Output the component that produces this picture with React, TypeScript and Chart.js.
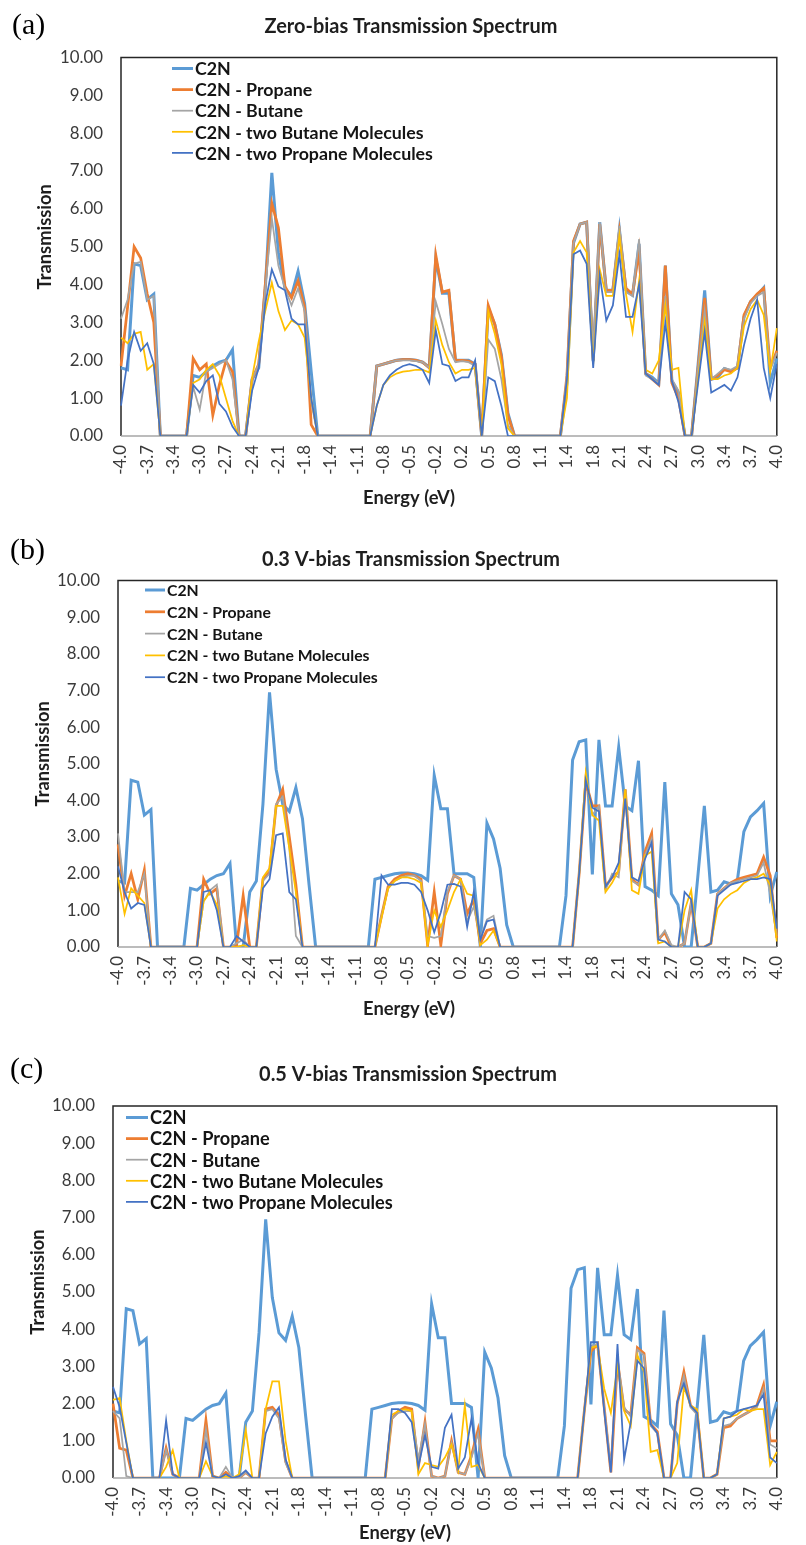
import React, { useEffect, useRef } from 'react';
import { Chart, registerables } from 'chart.js';

Chart.register(...registerables);

const FONT = 'Lato, "Open Sans", "DejaVu Sans", sans-serif';
const SERIF = '"Liberation Serif", "DejaVu Serif", serif';

// Energy grid (eV), 101 categories
const ENERGY = [
  -4.0, -3.92, -3.84, -3.76, -3.68, -3.6, -3.52, -3.44, -3.36, -3.28,
  -3.2, -3.12, -3.04, -2.96, -2.88, -2.8, -2.72, -2.64, -2.56, -2.48,
  -2.4, -2.32, -2.24, -2.16, -2.08, -2.0, -1.92, -1.84, -1.76, -1.68,
  -1.6, -1.52, -1.44, -1.36, -1.28, -1.2, -1.12, -1.04, -0.96, -0.88,
  -0.8, -0.72, -0.64, -0.56, -0.48, -0.4, -0.32, -0.24, -0.16, -0.08,
  0.0, 0.08, 0.16, 0.24, 0.32, 0.4, 0.48, 0.56, 0.64, 0.72,
  0.8, 0.88, 0.96, 1.04, 1.12, 1.2, 1.28, 1.36, 1.44, 1.52,
  1.6, 1.68, 1.76, 1.84, 1.92, 2.0, 2.08, 2.16, 2.24, 2.32,
  2.4, 2.48, 2.56, 2.64, 2.72, 2.8, 2.88, 2.96, 3.04, 3.12,
  3.2, 3.28, 3.36, 3.44, 3.52, 3.6, 3.68, 3.76, 3.84, 3.92,
  4.0,
];

// Shown category labels (every 4th category)
const TICK_LABELS = [
  '-4.0', '-3.7', '-3.4', '-3.0', '-2.7', '-2.4', '-2.1', '-1.8', '-1.4', '-1.1',
  '-0.8', '-0.5', '-0.2', '0.2', '0.5', '0.8', '1.1', '1.4', '1.8', '2.1',
  '2.4', '2.7', '3.0', '3.4', '3.7', '4.0',
];

const SERIES_NAMES = [
  'C2N',
  'C2N - Propane',
  'C2N - Butane',
  'C2N - two Butane Molecules',
  'C2N - two Propane Molecules',
];

const COLORS = ['#5B9BD5', '#ED7D31', '#A5A5A5', '#FFC000', '#4472C4'];
const WIDTHS = [3, 2.75, 1.75, 1.75, 1.75];

// Pristine C2N (same in all three panels)
const C2N = [
  1.8, 1.75, 4.55, 4.5, 3.6, 3.75, 0, 0, 0, 0,
  0, 1.6, 1.55, 1.7, 1.85, 1.95, 2.0, 2.28, 0, 0,
  1.5, 1.8, 3.9, 6.95, 4.85, 3.9, 3.7, 4.35, 3.5, 1.7,
  0, 0, 0, 0, 0, 0, 0, 0, 0, 1.85,
  1.9, 1.95, 2.0, 2.02, 2.02, 2.0, 1.95, 1.82, 4.68, 3.77,
  3.77, 2.0, 2.0, 2.0, 1.9, 0, 3.38, 2.95, 2.15, 0.6,
  0, 0, 0, 0, 0, 0, 0, 0, 1.4, 5.1,
  5.6, 5.65, 1.98, 5.65, 3.85, 3.85, 5.45, 3.85, 3.72, 5.08,
  1.65, 1.55, 1.4, 4.5, 1.45, 1.15, 0, 0, 1.9, 3.85,
  1.5, 1.55, 1.78, 1.72, 1.8, 3.15, 3.55, 3.72, 3.92, 1.4,
  2.05,
];

// ---- (a) Zero bias ----
const A_PROPANE = [
  1.85, 3.4, 5.0, 4.7, 3.75, 3.0, 0, 0, 0, 0,
  0, 2.05, 1.75, 1.9, 0.55, 1.35, 1.98, 1.7, 0, 0,
  1.5, 1.9, 4.0, 6.15, 5.5, 3.95, 3.65, 4.1, 3.4, 0.3,
  0, 0, 0, 0, 0, 0, 0, 0, 0, 1.85,
  1.9, 1.95, 2.0, 2.02, 2.02, 2.0, 1.95, 1.8, 4.78, 3.8,
  3.85, 2.0, 2.0, 1.98, 1.9, 0, 3.45, 2.95, 2.1, 0.55,
  0, 0, 0, 0, 0, 0, 0, 0, 1.6, 5.15,
  5.6, 5.65, 2.0, 5.6, 3.85, 3.85, 5.4, 3.9, 3.75, 4.9,
  1.65, 1.5, 1.35, 4.5, 1.4, 1.0, 0, 0, 1.8, 3.65,
  1.5, 1.6, 1.75, 1.7, 1.8, 3.2, 3.55, 3.75, 3.9, 1.8,
  2.25,
];
const A_BUTANE = [
  3.1, 3.6, 4.55, 4.6, 3.6, 3.7, 0, 0, 0, 0,
  0, 1.3, 0.7, 1.7, 1.8, 1.9, 2.0, 1.5, 0, 0,
  1.5, 1.9, 3.9, 5.75, 4.5, 3.9, 3.45, 3.9, 3.3, 0.9,
  0, 0, 0, 0, 0, 0, 0, 0, 0, 1.85,
  1.9, 1.95, 2.0, 2.0, 2.0, 1.98, 1.95, 1.8, 3.55, 2.95,
  2.3, 1.95, 1.98, 1.95, 1.85, 0, 2.55, 2.3, 1.5, 0.3,
  0, 0, 0, 0, 0, 0, 0, 0, 1.6, 5.1,
  5.6, 5.65, 2.3, 5.65, 3.8, 3.8, 5.55, 3.8, 3.7, 5.2,
  1.6, 1.5, 1.4, 3.7, 1.5, 1.2, 0, 0, 1.8, 3.3,
  1.5, 1.65, 1.8, 1.75, 1.85, 3.1, 3.5, 3.7, 3.8, 1.75,
  2.2,
];
const A_TWO_BUTANE = [
  2.6, 2.45, 2.7, 2.75, 1.75, 1.9, 0, 0, 0, 0,
  0, 1.4, 1.5, 1.75, 1.9, 1.6, 1.0, 0.4, 0, 0,
  1.55, 2.5, 3.3, 4.05, 3.3, 2.8, 3.05, 2.95, 2.6, 1.0,
  0, 0, 0, 0, 0, 0, 0, 0, 0, 0.8,
  1.35, 1.55, 1.65, 1.7, 1.72, 1.75, 1.75, 1.68, 3.05, 2.4,
  1.95, 1.65, 1.75, 1.75, 1.8, 0, 3.3, 2.7, 1.9, 0.2,
  0, 0, 0, 0, 0, 0, 0, 0, 1.0, 4.85,
  5.15, 4.85, 1.9, 4.4, 3.7, 3.7, 5.3, 3.75, 2.75, 4.1,
  1.75, 1.65, 2.0, 3.45, 1.75, 1.8, 0, 0, 1.5, 3.0,
  1.5, 1.5, 1.6, 1.65, 1.8, 2.9, 3.35, 3.6, 3.2, 1.7,
  2.85,
];
const A_TWO_PROPANE = [
  0.8, 2.0, 2.75, 2.25, 2.45, 1.9, 0, 0, 0, 0,
  0, 1.35, 1.15, 1.45, 1.6, 0.85, 0.65, 0.25, 0, 0,
  1.2, 1.8, 3.5, 4.4, 3.95, 3.85, 3.1, 2.95, 2.95, 1.0,
  0, 0, 0, 0, 0, 0, 0, 0, 0, 0.8,
  1.35, 1.6, 1.75, 1.85, 1.9, 1.85, 1.75, 1.4, 2.8, 1.9,
  1.85, 1.45, 1.55, 1.55, 2.0, 0, 1.55, 1.45, 0.8, 0,
  0, 0, 0, 0, 0, 0, 0, 0, 1.5, 4.8,
  4.9, 4.55, 1.8, 4.25, 3.05, 3.45, 4.8, 3.15, 3.15, 4.0,
  1.65, 1.5, 1.35, 3.0, 1.45, 0.9, 0, 0, 1.4, 2.75,
  1.15, 1.25, 1.35, 1.2, 1.55, 2.4, 3.1, 3.6, 1.8, 1.0,
  1.9,
];

// ---- (b) 0.3 V bias ----
const B_PROPANE = [
  2.8, 1.4, 2.0, 1.3, 2.1, 0, 0, 0, 0, 0,
  0, 0, 0, 1.85, 1.45, 1.6, 0, 0, 0.05, 1.4,
  0, 0, 1.85, 2.05, 3.85, 4.3, 3.0, 1.7, 0, 0,
  0, 0, 0, 0, 0, 0, 0, 0, 0, 0,
  0.85, 1.65, 1.85, 1.95, 2.0, 1.95, 1.85, 0.05, 1.5, 0.05,
  1.45, 1.95, 1.85, 0.9, 1.3, 0.1, 0.45, 0.5, 0, 0,
  0, 0, 0, 0, 0, 0, 0, 0, 0, 0,
  2.0, 4.5, 3.85, 3.85, 1.65, 1.9, 2.05, 4.3, 1.85, 1.7,
  2.6, 3.1, 0.2, 0.4, 0, 0, 0.1, 1.2, 0, 0,
  0.1, 1.45, 1.6, 1.75, 1.85, 1.9, 1.95, 2.0, 2.45, 1.95,
  0.25,
];
const B_BUTANE = [
  3.1, 1.5, 1.5, 1.5, 2.0, 0, 0, 0, 0, 0,
  0, 0, 0, 1.25, 1.55, 1.7, 0, 0, 0.1, 0.2,
  0, 0, 1.8, 2.0, 3.9, 4.1, 2.7, 0.3, 0, 0,
  0, 0, 0, 0, 0, 0, 0, 0, 0, 0,
  0.85, 1.6, 1.8, 1.9, 1.95, 1.95, 1.8, 0.3, 0.25, 0.3,
  1.5, 1.95, 1.85, 0.7, 1.1, 0.25, 0.75, 0.85, 0, 0,
  0, 0, 0, 0, 0, 0, 0, 0, 0, 0,
  2.0, 4.7, 3.6, 3.85, 1.55, 2.0, 1.9, 4.3, 1.8, 1.7,
  2.5, 2.95, 0.2, 0.45, 0.05, 0, 0.1, 1.2, 0, 0,
  0.1, 1.45, 1.6, 1.75, 1.8, 1.85, 1.9, 1.95, 2.3, 1.45,
  0.3,
];
const B_TWO_BUTANE = [
  1.9, 0.9, 1.6, 1.4, 1.2, 0, 0, 0, 0, 0,
  0, 0, 0, 1.25, 1.5, 1.15, 0, 0, 0, 0.05,
  0, 0, 1.9, 2.15, 3.85, 3.85, 2.7, 1.5, 0, 0,
  0, 0, 0, 0, 0, 0, 0, 0, 0, 0,
  0.8, 1.6, 1.8, 1.9, 1.9, 1.85, 1.75, 0.05, 1.0, 0.55,
  1.0, 1.5, 1.85, 1.45, 1.4, 0.05, 0.2, 0.45, 0, 0,
  0, 0, 0, 0, 0, 0, 0, 0, 0, 0,
  2.0, 4.75, 3.6, 3.45, 1.5, 1.75, 2.1, 4.3, 1.55, 1.45,
  2.5, 2.6, 0.1, 0.15, 0, 0, 1.0, 1.55, 0, 0,
  0.1, 1.05, 1.3, 1.45, 1.55, 1.75, 1.85, 1.9, 2.0, 1.7,
  0.15,
];
const B_TWO_PROPANE = [
  2.2, 1.5, 1.05, 1.2, 1.15, 0, 0, 0, 0, 0,
  0, 0, 0, 1.5, 1.55, 1.0, 0, 0, 0.3, 0.15,
  0, 0, 1.6, 1.85, 3.05, 3.1, 1.5, 1.3, 0, 0,
  0, 0, 0, 0, 0, 0, 0, 0, 0, 0,
  1.95, 1.7, 1.7, 1.75, 1.75, 1.7, 1.5, 1.0, 0.4, 0.95,
  1.7, 1.72, 1.65, 0.55, 1.5, 0.2, 0.7, 0.75, 0, 0,
  0, 0, 0, 0, 0, 0, 0, 0, 0, 0,
  2.0, 4.55, 3.8, 3.7, 1.65, 1.9, 2.3, 4.05, 1.9, 1.8,
  2.4, 2.85, 0.2, 0.15, 0, 0, 1.5, 1.3, 0, 0,
  0.1, 1.4, 1.55, 1.7, 1.75, 1.8, 1.85, 1.85, 1.9, 1.85,
  0.5,
];

// ---- (c) 0.5 V bias ----
const C_PROPANE = [
  2.0, 0.8, 0.75, 0, 0, 0, 0, 0, 0.8, 0.1,
  0, 0, 0, 0, 1.55, 0.05, 0, 0.15, 0, 0,
  0.15, 0, 0, 1.85, 1.9, 1.7, 0.45, 0, 0, 0,
  0, 0, 0, 0, 0, 0, 0, 0, 0, 0,
  0, 0, 1.6, 1.8, 1.9, 1.85, 0.3, 1.5, 0.05, 0,
  0.05, 1.0, 0.15, 0.1, 0.6, 1.3, 0, 0, 0, 0,
  0, 0, 0, 0, 0, 0, 0, 0, 0, 0,
  0, 1.8, 3.4, 3.6, 1.9, 0.15, 3.15, 1.85, 1.7, 3.5,
  3.35, 1.45, 1.25, 0, 0, 2.0, 2.85, 1.95, 1.75, 0,
  0, 0.1, 1.35, 1.4, 1.6, 1.7, 1.8, 1.95, 2.5, 1.0,
  1.0,
];
const C_BUTANE = [
  1.8, 1.6, 0.05, 0, 0, 0, 0, 0, 0.75, 0.1,
  0, 0, 0, 0, 1.3, 0.05, 0, 0.3, 0, 0,
  0.15, 0, 0, 1.8, 1.85, 1.6, 0.4, 0, 0, 0,
  0, 0, 0, 0, 0, 0, 0, 0, 0, 0,
  0, 0, 1.6, 1.75, 1.8, 1.8, 0.5, 1.45, 0.05, 0,
  0.05, 0.95, 0.15, 0.1, 0.55, 1.2, 0, 0, 0, 0,
  0, 0, 0, 0, 0, 0, 0, 0, 0, 0,
  0, 1.8, 3.55, 3.6, 1.9, 0.3, 3.2, 1.9, 1.65, 3.45,
  3.3, 1.4, 1.2, 0, 0, 2.0, 2.75, 1.9, 1.7, 0,
  0, 0.1, 1.4, 1.45, 1.6, 1.7, 1.8, 1.9, 2.4, 0.9,
  0.8,
];
const C_TWO_BUTANE = [
  2.1, 2.15, 1.0, 0, 0, 0, 0, 0, 0.3, 0.75,
  0, 0, 0, 0, 0.45, 0.05, 0, 0.05, 0, 0.1,
  1.3, 0, 0, 1.85, 2.6, 2.6, 1.0, 0, 0, 0,
  0, 0, 0, 0, 0, 0, 0, 0, 0, 0,
  0, 0, 1.7, 1.8, 1.85, 1.8, 0.1, 0.4, 0.35, 0.3,
  0.55, 0.9, 0.2, 1.95, 0.3, 0.35, 0, 0, 0, 0,
  0, 0, 0, 0, 0, 0, 0, 0, 0, 0,
  0, 1.8, 3.5, 3.55, 2.4, 1.75, 3.0, 1.8, 1.4, 3.3,
  2.85, 0.7, 0.75, 0, 0, 0.4, 2.45, 1.95, 1.85, 0,
  0, 0.1, 1.6, 1.65, 1.7, 1.85, 1.8, 1.85, 1.85, 0.35,
  0.7,
];
const C_TWO_PROPANE = [
  2.45, 1.9, 0.95, 0, 0, 0, 0, 0, 1.55, 0.1,
  0, 0, 0, 0, 0.95, 0.05, 0, 0.1, 0, 0.05,
  0.2, 0, 0, 1.2, 1.65, 1.9, 0.5, 0, 0, 0,
  0, 0, 0, 0, 0, 0, 0, 0, 0, 0,
  0, 0, 1.85, 1.85, 1.75, 1.5, 0.3, 1.15, 0.3, 0.25,
  1.35, 1.7, 0.25, 0.55, 1.6, 0.4, 0, 0, 0, 0,
  0, 0, 0, 0, 0, 0, 0, 0, 0, 0,
  0, 1.8, 3.65, 3.65, 1.8, 0.15, 3.6, 0.5, 1.5, 3.15,
  2.95, 1.45, 1.2, 0, 0, 2.05, 2.55, 1.95, 1.75, 0,
  0, 0.1, 1.6, 1.65, 1.8, 1.85, 1.9, 1.95, 2.25, 0.55,
  0.4,
];

type Area = { left: number; right: number; top: number; bottom: number };
type PanelCfg = {
  letter: string;
  title: string;
  top: number;
  height: number;
  area: Area;
  letterX: number;
  letterY: number;
  titleX: number;
  titleY: number;
  legendLine: [number, number];
  legendTextX: number;
  legendY0: number;
  legendDY: number;
  legendTextW: number;
  yTitleX: number;
  xTitleX: number;
  xTitleY: number;
  series: number[][];
};

const PANELS: PanelCfg[] = [
  {
    letter: '(a)',
    title: 'Zero-bias Transmission Spectrum',
    top: 0,
    height: 515,
    area: { left: 121, right: 794, top: 57.5, bottom: 436 },
    letterX: 12,
    letterY: 26,
    titleX: 411,
    titleY: 27,
    legendLine: [172, 193],
    legendTextX: 195,
    legendY0: 68.5,
    legendDY: 21.1,
    legendTextW: 238,
    yTitleX: 45,
    xTitleX: 409,
    xTitleY: 498,
    series: [C2N, A_PROPANE, A_BUTANE, A_TWO_BUTANE, A_TWO_PROPANE],
  },
  {
    letter: '(b)',
    title: '0.3 V-bias Transmission Spectrum',
    top: 515,
    height: 520,
    area: { left: 118, right: 791, top: 580.5, bottom: 947 },
    letterX: 10,
    letterY: 551,
    titleX: 411,
    titleY: 560,
    legendLine: [145, 165],
    legendTextX: 167,
    legendY0: 590,
    legendDY: 21.8,
    legendTextW: 211,
    yTitleX: 43,
    xTitleX: 409,
    xTitleY: 1009,
    series: [C2N, B_PROPANE, B_BUTANE, B_TWO_BUTANE, B_TWO_PROPANE],
  },
  {
    letter: '(c)',
    title: '0.5 V-bias Transmission Spectrum',
    top: 1035,
    height: 510,
    area: { left: 113, right: 799, top: 1106, bottom: 1478 },
    letterX: 10,
    letterY: 1070,
    titleX: 408,
    titleY: 1075,
    legendLine: [126, 148],
    legendTextX: 150,
    legendY0: 1117.5,
    legendDY: 21.1,
    legendTextW: 243,
    yTitleX: 38,
    xTitleX: 405,
    xTitleY: 1533,
    series: [C2N, C_PROPANE, C_BUTANE, C_TWO_BUTANE, C_TWO_PROPANE],
  },
];

function measure(text: string, font: string): number {
  const c = document.createElement('canvas').getContext('2d')!;
  c.font = font;
  return c.measureText(text).width;
}
function fitSize(text: string, weight: string, target: number): number {
  const base = 20;
  const w = measure(text, `${weight} ${base}px ${FONT}`);
  return (base * target) / w;
}

function Panel({ cfg }: { cfg: PanelCfg }) {
  const ref = useRef<HTMLCanvasElement>(null);
  useEffect(() => {
    const canvas = ref.current!;
    const W = 806;
    const H = cfg.height;
    const yW = 70;
    const xH = 45;
    const a = cfg.area;
    const tickSize = fitSize('10.00', 'normal', 43);
    const titleSize = fitSize('Zero-bias Transmission Spectrum', 'bold', 293);
    const axisSize = fitSize('Energy (eV)', 'bold', 92);
    const legendSize = fitSize(SERIES_NAMES[4], 'bold', cfg.legendTextW);
    const off = cfg.top;

    const decor = {
      id: 'decor',
      beforeDatasetsDraw(chart: any) {
        const ctx = chart.ctx as CanvasRenderingContext2D;
        const ca = chart.chartArea;
        ctx.save();
        ctx.strokeStyle = '#262626';
        ctx.lineWidth = 1.5;
        ctx.beginPath();
        ctx.moveTo(ca.left, ca.bottom);
        ctx.lineTo(ca.left, ca.top);
        ctx.lineTo(ca.right, ca.top);
        ctx.lineTo(ca.right, ca.bottom);
        ctx.stroke();
        ctx.strokeStyle = '#A6A6A6';
        ctx.beginPath();
        ctx.moveTo(ca.left, ca.bottom);
        ctx.lineTo(ca.right, ca.bottom);
        ctx.stroke();
        ctx.restore();
      },
      afterDraw(chart: any) {
        const ctx = chart.ctx as CanvasRenderingContext2D;
        const ca = chart.chartArea;
        ctx.save();
        // panel letter
        ctx.fillStyle = '#000';
        ctx.font = `30px ${SERIF}`;
        ctx.textAlign = 'left';
        ctx.textBaseline = 'middle';
        ctx.fillText(cfg.letter, cfg.letterX, cfg.letterY - off);
        // title
        ctx.fillStyle = '#1e1e1e';
        ctx.font = `bold ${titleSize}px ${FONT}`;
        ctx.textAlign = 'center';
        ctx.fillText(cfg.title, cfg.titleX, cfg.titleY - off);
        // axis titles
        ctx.font = `bold ${axisSize}px ${FONT}`;
        ctx.fillText('Energy (eV)', cfg.xTitleX, cfg.xTitleY - off);
        ctx.save();
        ctx.translate(cfg.yTitleX, (ca.top + ca.bottom) / 2 - 10);
        ctx.rotate(-Math.PI / 2);
        ctx.fillText('Transmission', 0, 0);
        ctx.restore();
        // legend
        ctx.textAlign = 'left';
        ctx.font = `bold ${legendSize}px ${FONT}`;
        SERIES_NAMES.forEach((name, k) => {
          const y = cfg.legendY0 + k * cfg.legendDY - off;
          ctx.strokeStyle = COLORS[k];
          ctx.lineWidth = WIDTHS[k];
          ctx.beginPath();
          ctx.moveTo(cfg.legendLine[0], y);
          ctx.lineTo(cfg.legendLine[1], y);
          ctx.stroke();
          ctx.fillStyle = '#141414';
          ctx.fillText(name, cfg.legendTextX, y + 1);
        });
        ctx.restore();
      },
    };

    const chart = new Chart(canvas, {
      type: 'line',
      data: {
        labels: ENERGY.map((e) => e.toFixed(2)),
        datasets: cfg.series.map((vals, k) => ({
          label: SERIES_NAMES[k],
          data: vals,
          borderColor: COLORS[k],
          backgroundColor: COLORS[k],
          borderWidth: WIDTHS[k],
          pointRadius: 0,
          pointHoverRadius: 0,
          tension: 0,
          fill: false,
          order: 5 - k,
          borderJoinStyle: 'miter' as const,
        })),
      },
      options: {
        responsive: false,
        animation: false,
        events: [],
        layout: {
          autoPadding: false,
          padding: {
            left: a.left - yW,
            right: W - a.right,
            top: a.top - off,
            bottom: off + H - a.bottom - xH,
          },
        },
        plugins: {
          legend: { display: false },
          title: { display: false },
          tooltip: { enabled: false },
        },
        scales: {
          x: {
            type: 'category',
            offset: false,
            grid: { display: false, drawTicks: false },
            border: { display: false },
            ticks: {
              autoSkip: false,
              minRotation: 90,
              maxRotation: 90,
              padding: 9,
              color: '#3a3a3a',
              font: { family: FONT, size: tickSize },
              callback: (_v: any, i: number) => (i % 4 === 0 ? TICK_LABELS[i / 4] : null),
            },
            afterFit: (s: any) => {
              s.height = xH;
            },
          },
          y: {
            min: 0,
            max: 10,
            grid: { display: false, drawTicks: false },
            border: { display: false },
            ticks: {
              stepSize: 1,
              padding: 18,
              color: '#3a3a3a',
              font: { family: FONT, size: tickSize },
              callback: (v: any) => Number(v).toFixed(2),
            },
            afterFit: (s: any) => {
              s.width = yW;
            },
          },
        },
      } as any,
      plugins: [decor],
    });
    return () => chart.destroy();
  }, [cfg]);
  return (
    <canvas
      ref={ref}
      width={806}
      height={cfg.height}
      style={{ position: 'absolute', left: 0, top: cfg.top, display: 'block' }}
    />
  );
}

export default function App() {
  return (
    <div
      style={{
        position: 'absolute',
        left: 0,
        top: 0,
        width: 806,
        height: 1545,
        background: '#ffffff',
        overflow: 'hidden',
      }}
    >
      {PANELS.map((p) => (
        <Panel key={p.letter} cfg={p} />
      ))}
    </div>
  );
}
